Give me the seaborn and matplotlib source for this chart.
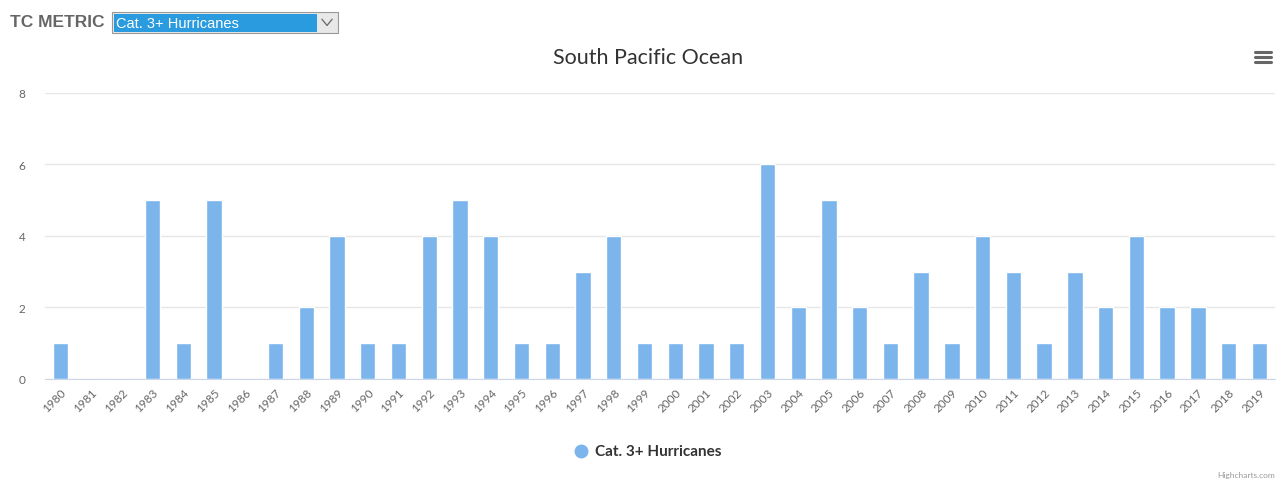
import pandas as pd
import matplotlib.pyplot as plt
import seaborn as sns
from matplotlib.patches import Rectangle
from matplotlib.lines import Line2D

years = [str(y) for y in range(1980, 2020)]
cat3_counts = [1, 0, 0, 5, 1, 5, 0, 1, 2, 4,
               1, 1, 4, 5, 4, 1, 1, 3, 4, 1,
               1, 1, 1, 6, 2, 5, 2, 1, 3, 1,
               4, 3, 1, 3, 2, 4, 2, 2, 1, 1]
y_ticks = [0, 2, 4, 6, 8]
series_name = "Cat. 3+ Hurricanes"

df = pd.DataFrame({"year": years, "count": cat3_counts})

sns.set_style("white")
plt.rcParams['font.family'] = ['Lato', 'DejaVu Sans']

fig = plt.figure(figsize=(12.85, 4.81), dpi=100)
ax = fig.add_axes([0.035, 0.21, 0.957, 0.595])

sns.barplot(data=df, x="year", y="count", color="#7cb5ec", width=0.5,
            saturation=1, ax=ax, zorder=3)

ax.set_ylim(0, 8)
ax.set_yticks(y_ticks)
ax.set_xlim(-0.5, len(years) - 0.5)
ax.grid(axis="y", color="#e6e6e6", linewidth=1, zorder=0)
ax.set_xlabel("")
ax.set_ylabel("")
for s in ["top", "right", "left"]:
    ax.spines[s].set_visible(False)
ax.spines["bottom"].set_color("#ccd6eb")
ax.tick_params(axis="y", length=0, labelsize=8.5, labelcolor="#666666", pad=14)
ax.tick_params(axis="x", length=0, labelsize=8.5, labelcolor="#666666", pad=5)
for lbl in ax.get_xticklabels():
    lbl.set_rotation(45)
    lbl.set_ha("right")
    lbl.set_rotation_mode("anchor")

# title
fig.text(0.504, 0.88, "South Pacific Ocean", ha="center", va="center",
         fontsize=15.5, color="#333333")

# top-left selector
fig.text(0.008, 0.953, "TC METRIC", ha="left", va="center", fontsize=12.5,
         fontweight="bold", color="#666666", family=["Liberation Sans", "DejaVu Sans"])
fig.patches.append(Rectangle((0.087, 0.929), 0.176, 0.043, transform=fig.transFigure,
                             facecolor="#e8e8e8", edgecolor="#999999", linewidth=0.8))
fig.patches.append(Rectangle((0.0885, 0.932), 0.158, 0.037, transform=fig.transFigure,
                             facecolor="#2a9bde", edgecolor="none"))
fig.text(0.0905, 0.951, series_name, ha="left", va="center", fontsize=10.5,
         color="white", family=["Liberation Sans", "DejaVu Sans"])
fig.lines.append(Line2D([0.2505, 0.2545, 0.2585], [0.958, 0.945, 0.958],
                        transform=fig.transFigure, color="#666666", linewidth=0.9))

# menu icon
for yy in [0.889, 0.879, 0.869]:
    fig.lines.append(Line2D([0.977, 0.989], [yy, yy], transform=fig.transFigure,
                            color="#666666", linewidth=2.2))

# legend
fig.lines.append(Line2D([0.452], [0.06], transform=fig.transFigure, marker="o",
                        markersize=9, color="#7cb5ec", linestyle="none"))
fig.text(0.463, 0.06, series_name, ha="left", va="center", fontsize=11,
         fontweight="bold", color="#333333")

# credits
fig.text(0.992, 0.012, "Highcharts.com", ha="right", va="center", fontsize=6,
         color="#999999")

fig.savefig("out.png", dpi=100)
